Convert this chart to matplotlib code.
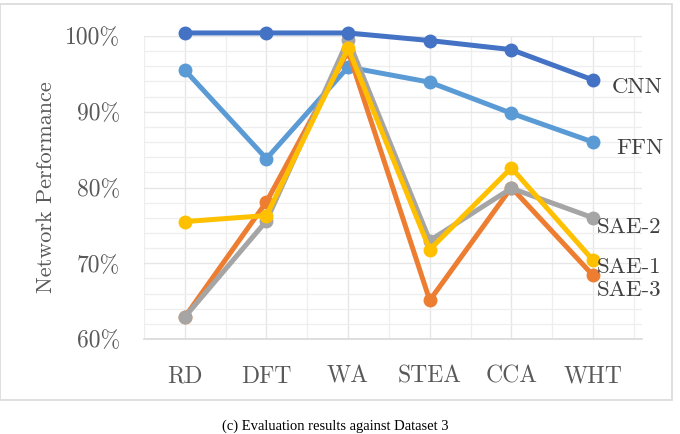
#!/usr/bin/env python3
"""Network performance of each model against Dataset 3 (line chart)."""
import matplotlib
matplotlib.use("Agg")
import matplotlib.pyplot as plt
from matplotlib.patches import Rectangle
from matplotlib.ticker import MultipleLocator

# categories along the x axis
methods = ["RD", "DFT", "WA", "STEA", "CCA", "WHT"]

# network performance in percent
cnn = [100.4, 100.4, 100.4, 99.4, 98.2, 94.2]
ffn = [95.5, 83.8, 95.9, 93.9, 89.8, 86.0]
sae1 = [75.5, 76.3, 98.4, 71.8, 82.6, 70.4]
sae2 = [62.9, 75.6, 99.5, 73.0, 79.9, 76.0]
sae3 = [62.9, 78.1, 98.0, 65.1, 80.0, 68.4]

y_ticks = [60, 70, 80, 90, 100]
y_ticklabels = ["60%", "70%", "80%", "90%", "100%"]

series = [
    # label, values, colour, zorder, label y
    ("FFN", ffn, "#5b9bd5", 3, 85.2),
    ("SAE-3", sae3, "#ed7d31", 4, 66.4),
    ("SAE-2", sae2, "#a5a5a5", 5, 74.8),
    ("SAE-1", sae1, "#ffc000", 6, 69.5),
    ("CNN", cnn, "#4472c4", 7, 93.3),
]
label_x = {"CNN": 5.23, "FFN": 5.29, "SAE-1": 5.05, "SAE-2": 5.05, "SAE-3": 5.05}

W, H = 680, 434
fig = plt.figure(figsize=(W / 100, H / 100), dpi=100)
ax = fig.add_axes([144 / W, 1 - 339 / H, (642 - 144) / W, (339 - 36) / H])

# light chart frame like the exported spreadsheet chart
fig.patches.append(Rectangle((0.0, 1 - 400 / H), 672 / W, (400 - 4) / H,
                             transform=fig.transFigure, fill=False,
                             edgecolor="#d9d9d9", linewidth=1.2))

x = list(range(len(methods)))
for name, vals, color, z, ly in series:
    ax.plot(x, vals, color=color, linewidth=3.6, marker="o", markersize=9,
            solid_joinstyle="round", solid_capstyle="round",
            zorder=z, clip_on=False)
    ax.text(label_x[name], ly, name, fontsize=16.5, family="cmr10",
            color="#404040", ha="left", va="center", zorder=10)

ax.set_xlim(-0.5, 5.6)
ax.set_ylim(60, 100)
ax.set_xticks(x)
ax.set_xticklabels(methods, family="cmr10", fontsize=17, color="#595959")
ax.set_yticks(y_ticks)
ax.set_yticklabels(y_ticklabels, family="cmr10", fontsize=17, color="#595959")
ax.yaxis.set_minor_locator(MultipleLocator(2))
ax.xaxis.set_minor_locator(MultipleLocator(0.5))
ax.tick_params(axis="both", which="both", length=0)
ax.tick_params(axis="x", pad=19)
ax.tick_params(axis="y", pad=17)

ax.grid(True, which="major", color="#e6e6e6", linewidth=1.0, zorder=0)
ax.grid(True, which="minor", color="#eeeeee", linewidth=0.9, zorder=0)
ax.set_axisbelow(True)
for side in ("top", "right", "left"):
    ax.spines[side].set_visible(False)
ax.spines["bottom"].set_color("#d9d9d9")
ax.spines["bottom"].set_linewidth(1.2)

ax.set_ylabel("Network Performance", family="cmr10", fontsize=16,
              color="#595959", labelpad=7)

fig.text(335 / W, 1 - 426 / H, "(c) Evaluation results against Dataset 3",
         family="Liberation Serif", fontsize=10.5, color="black",
         ha="center", va="center")

fig.savefig("out.png", dpi=100)
